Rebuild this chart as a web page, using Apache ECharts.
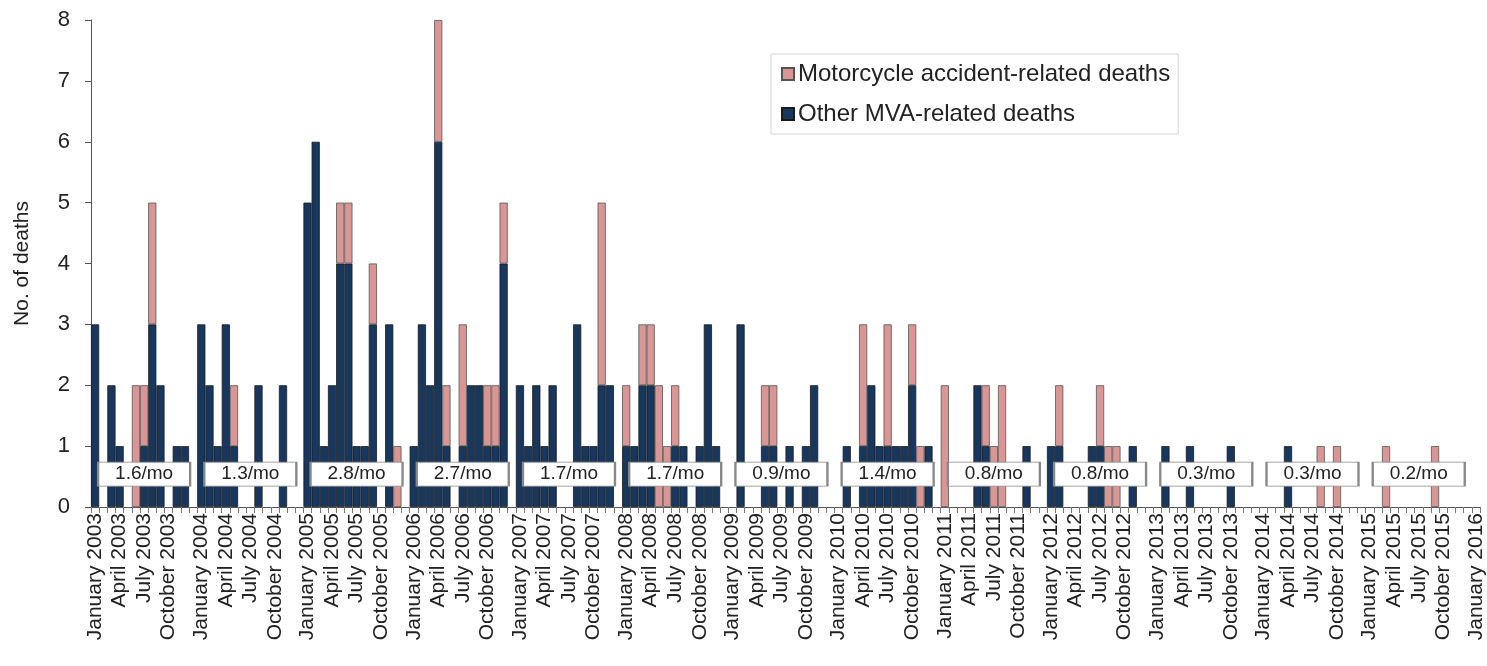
<!DOCTYPE html>
<html>
<head>
<meta charset="utf-8">
<script src="https://cdn.jsdelivr.net/npm/echarts@6/dist/echarts.min.js"></script>
<style>
html,body{margin:0;padding:0;background:#fff;}
#chart{width:1487px;height:666px;}
</style>
</head>
<body>
<div id="chart"></div>
<script>
// ---- data ----
const years = [2003, 2004, 2005, 2006, 2007, 2008, 2009, 2010, 2011, 2012, 2013, 2014, 2015];
const monthNames = ['January','February','March','April','May','June','July','August','September','October','November','December'];
const shownMonths = ['January','April','July','October'];
const finalLabel = 'January 2016';

// Other MVA-related deaths, per year, Jan..Dec
const otherDeaths = [
  [3,0,2,1,0,0,1,3,2,0,1,1],
  [3,2,1,3,1,0,0,2,0,0,2,0],
  [5,6,1,2,4,4,1,1,3,0,3,0],
  [1,3,2,6,1,0,1,2,2,1,1,4],
  [2,1,2,1,2,0,0,3,1,1,2,2],
  [1,1,2,2,0,0,1,1,0,1,3,1],
  [0,3,0,0,1,1,0,1,0,1,2,0],
  [0,1,0,1,2,1,1,1,1,2,0,1],
  [0,0,0,0,2,1,0,0,0,0,1,0],
  [1,1,0,0,0,1,1,0,0,0,1,0],
  [0,1,0,0,1,0,0,0,0,1,0,0],
  [0,0,0,1,0,0,0,0,0,0,0,0],
  [0,0,0,0,0,0,0,0,0,0,0,0]
];
// Motorcycle accident-related deaths, per year, Jan..Dec
const motoDeaths = [
  [0,0,0,0,0,2,1,2,0,0,0,0],
  [0,0,0,0,1,0,0,0,0,0,0,0],
  [0,0,0,0,1,1,0,0,1,0,0,1],
  [0,0,0,2,1,0,2,0,0,1,1,1],
  [0,0,0,0,0,0,0,0,0,0,3,0],
  [1,0,1,1,2,1,1,0,0,0,0,0],
  [0,0,0,0,1,1,0,0,0,0,0,0],
  [0,0,0,2,0,0,2,0,0,1,1,0],
  [2,0,0,0,0,1,1,2,0,0,0,0],
  [0,1,0,0,0,0,1,1,1,0,0,0],
  [0,0,0,0,0,0,0,0,0,0,0,0],
  [0,0,0,0,0,0,0,1,0,1,0,0],
  [0,0,1,0,0,0,0,0,1,0,0,0]
];
const yearlyRates = ['1.6/mo','1.3/mo','2.8/mo','2.7/mo','1.7/mo','1.7/mo','0.9/mo','1.4/mo','0.8/mo','0.8/mo','0.3/mo','0.3/mo','0.2/mo'];
const rateBoxValue = 0.54;

// ---- build category axis (12 months + 1 spacer per year) ----
const categories = [];
const otherSeries = [];
const motoSeries = [];
const rateBoxes = [];
years.forEach((yr, yi) => {
  monthNames.forEach((m, mi) => {
    const label = m + ' ' + yr;
    categories.push(label);
    const o = otherDeaths[yi][mi], p = motoDeaths[yi][mi];
    otherSeries.push(o ? o : null);
    motoSeries.push(p ? p : null);
    if (m === 'July') rateBoxes.push({value: [label, rateBoxValue], rate: yearlyRates[yi]});
  });
  categories.push(' ' + yi); // spacer
  otherSeries.push(null);
  motoSeries.push(null);
});
categories.push(finalLabel);
otherSeries.push(null);
motoSeries.push(null);

const FONT = '"Liberation Sans", Arial, sans-serif';
const chart = echarts.init(document.getElementById('chart'), null, {renderer: 'canvas'});
chart.setOption({
  animation: false,
  backgroundColor: '#fff',
  textStyle: {fontFamily: FONT},
  grid: {left: 91, right: 7, top: 20, bottom: 159, containLabel: false},
  legend: {
    orient: 'vertical',
    left: 771, top: 54,
    data: ['Motorcycle accident-related deaths', 'Other MVA-related deaths'],
    itemWidth: 12, itemHeight: 12, itemGap: 16,
    padding: [8, 8, 8, 10],
    borderColor: '#d4d4d4', borderWidth: 1,
    icon: 'rect',
    textStyle: {fontSize: 24, color: '#222', fontFamily: FONT, padding: [0, 0, 0, -1]}
  },
  xAxis: {
    type: 'category',
    data: categories,
    boundaryGap: true,
    axisLine: {lineStyle: {color: '#555', width: 1}},
    axisTick: {show: true, interval: 0, length: 6, lineStyle: {color: '#777'}},
    axisLabel: {
      rotate: 90,
      interval: (i, v) => shownMonths.some(m => v.indexOf(m + ' ') === 0),
      fontSize: 21, color: '#222', fontFamily: FONT, margin: 6
    }
  },
  yAxis: {
    type: 'value',
    min: 0, max: 8, interval: 1,
    name: 'No. of deaths',
    nameLocation: 'middle',
    nameGap: 58,
    nameTextStyle: {fontSize: 21, color: '#222', fontFamily: FONT},
    axisLine: {show: true, lineStyle: {color: '#555', width: 1}},
    axisTick: {show: true, length: 6, lineStyle: {color: '#555'}},
    axisLabel: {fontSize: 22, color: '#222', fontFamily: FONT, margin: 21},
    splitLine: {show: false}
  },
  series: [
    {
      name: 'Other MVA-related deaths',
      type: 'bar',
      stack: 'deaths',
      data: otherSeries,
      barCategoryGap: '0%',
      itemStyle: {color: '#17375E', borderColor: '#1a1a1a', borderWidth: 0.8}
    },
    {
      name: 'Motorcycle accident-related deaths',
      type: 'bar',
      stack: 'deaths',
      data: motoSeries,
      barCategoryGap: '0%',
      itemStyle: {color: '#D99694', borderColor: '#555', borderWidth: 0.8}
    },
    {
      name: 'rates',
      type: 'scatter',
      z: 5,
      symbol: 'rect',
      symbolSize: [92, 24],
      data: rateBoxes,
      itemStyle: {color: '#fff', borderColor: '#888', borderWidth: 1.2, opacity: 1},
      label: {
        show: true, position: 'inside',
        formatter: p => p.data.rate,
        fontSize: 19, color: '#222', fontFamily: FONT
      },
      silent: true
    }
  ]
});
</script>
</body>
</html>
